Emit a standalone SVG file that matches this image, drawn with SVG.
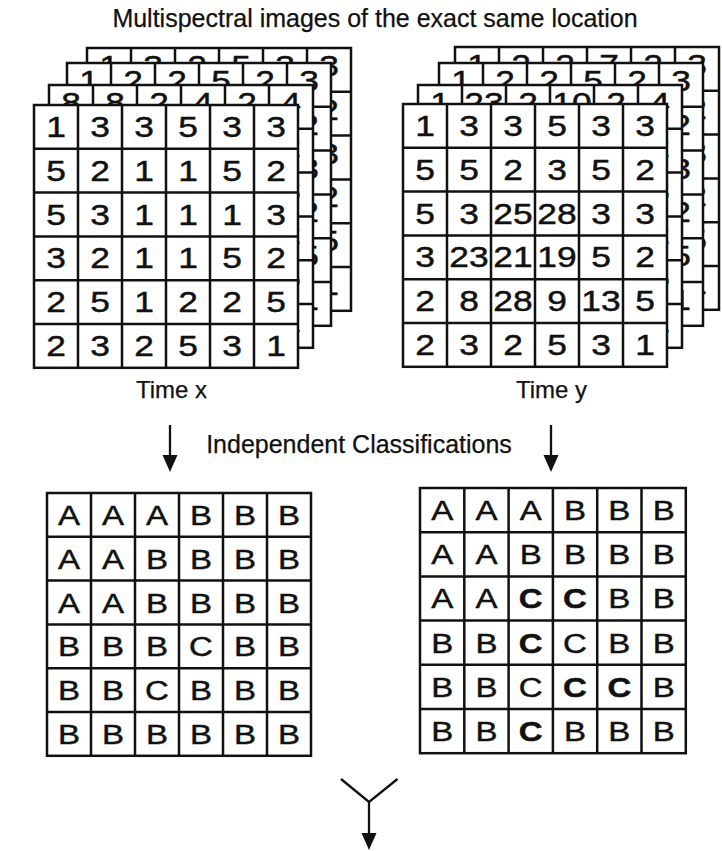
<svg xmlns="http://www.w3.org/2000/svg" xmlns:xlink="http://www.w3.org/1999/xlink" width="722" height="851" viewBox="0 0 722 851">
<style>
.fr{fill:#fff;stroke:#111;stroke-width:2.5}
.fl{fill:none;stroke:#111;stroke-width:2.5}
.n,.L{font-family:"Liberation Sans",Arial,Helvetica,sans-serif;text-anchor:middle;fill:#111;stroke:#111;stroke-width:0.45;transform-box:fill-box;transform-origin:center}
.n{font-size:29px;transform:scaleX(1.22)}
.L{font-size:28px;transform:scaleX(1.18)}
.b{font-weight:bold}
.lab{font-family:"Liberation Sans",Arial,Helvetica,sans-serif;fill:#111;stroke:#111;stroke-width:0.25;text-anchor:middle}
.ar{fill:none;stroke:#111;stroke-width:2.3}
.ah{fill:#111}
</style>
<defs>
<g id="frame"><rect class="fr" width="264" height="262.8"/><path class="fl" d="M44 0V262.8M88 0V262.8M132 0V262.8M176 0V262.8M220 0V262.8M0 43.8H264M0 87.6H264M0 131.4H264M0 175.2H264M0 219H264"/></g>
<g id="frame2"><rect class="fr" width="265.8" height="265.2"/><path class="fl" d="M44.3 0V265.2M88.6 0V265.2M132.9 0V265.2M177.2 0V265.2M221.5 0V265.2M0 44.2H265.8M0 88.4H265.8M0 132.6H265.8M0 176.8H265.8M0 221H265.8"/></g>
</defs>
<rect width="722" height="851" fill="#fff"/>

<text id="title" class="lab" x="375" y="27" font-size="25">Multispectral images of the exact same location</text>

<g id="stack-time-x">
<g transform="translate(87,48)"><use xlink:href="#frame"/>
<text class="n" x="22" y="28">1</text><text class="n" x="66" y="28">3</text><text class="n" x="110" y="28">2</text><text class="n" x="154" y="28">5</text><text class="n" x="198" y="28">3</text><text class="n" x="242" y="28">3</text>
<text class="n" x="242" y="71.8">2</text><text class="n" x="242" y="115.6">3</text><text class="n" x="242" y="159.4">2</text><text class="n" x="242" y="203.2">5</text><text class="n" x="242" y="247">1</text>
</g>
<g transform="translate(67,63)"><use xlink:href="#frame"/>
<text class="n" x="22" y="28">1</text><text class="n" x="66" y="28">2</text><text class="n" x="110" y="28">2</text><text class="n" x="154" y="28">5</text><text class="n" x="198" y="28">2</text><text class="n" x="242" y="28">3</text>
<text class="n" x="242" y="71.8">2</text><text class="n" x="242" y="115.6">3</text><text class="n" x="242" y="159.4">2</text><text class="n" x="242" y="203.2">5</text><text class="n" x="242" y="247">1</text>
</g>
<g transform="translate(49,85)"><use xlink:href="#frame"/>
<text class="n" x="22" y="28">8</text><text class="n" x="66" y="28">8</text><text class="n" x="110" y="28">2</text><text class="n" x="154" y="28">4</text><text class="n" x="198" y="28">2</text><text class="n" x="242" y="28">4</text>
<text class="n" x="242" y="71.8">2</text><text class="n" x="242" y="115.6">3</text><text class="n" x="242" y="159.4">2</text><text class="n" x="242" y="203.2">5</text><text class="n" x="242" y="247">1</text>
</g>
<g transform="translate(34,105)"><use xlink:href="#frame"/>
<text class="n" x="22" y="32">1</text><text class="n" x="66" y="32">3</text><text class="n" x="110" y="32">3</text><text class="n" x="154" y="32">5</text><text class="n" x="198" y="32">3</text><text class="n" x="242" y="32">3</text>
<text class="n" x="22" y="75.8">5</text><text class="n" x="66" y="75.8">2</text><text class="n" x="110" y="75.8">1</text><text class="n" x="154" y="75.8">1</text><text class="n" x="198" y="75.8">5</text><text class="n" x="242" y="75.8">2</text>
<text class="n" x="22" y="119.6">5</text><text class="n" x="66" y="119.6">3</text><text class="n" x="110" y="119.6">1</text><text class="n" x="154" y="119.6">1</text><text class="n" x="198" y="119.6">1</text><text class="n" x="242" y="119.6">3</text>
<text class="n" x="22" y="163.4">3</text><text class="n" x="66" y="163.4">2</text><text class="n" x="110" y="163.4">1</text><text class="n" x="154" y="163.4">1</text><text class="n" x="198" y="163.4">5</text><text class="n" x="242" y="163.4">2</text>
<text class="n" x="22" y="207.2">2</text><text class="n" x="66" y="207.2">5</text><text class="n" x="110" y="207.2">1</text><text class="n" x="154" y="207.2">2</text><text class="n" x="198" y="207.2">2</text><text class="n" x="242" y="207.2">5</text>
<text class="n" x="22" y="251">2</text><text class="n" x="66" y="251">3</text><text class="n" x="110" y="251">2</text><text class="n" x="154" y="251">5</text><text class="n" x="198" y="251">3</text><text class="n" x="242" y="251">1</text>
</g>
<text class="lab" x="171.5" y="398" font-size="24">Time x</text>
</g>

<g id="stack-time-y">
<g transform="translate(455,47)"><use xlink:href="#frame"/>
<text class="n" x="22" y="28">1</text><text class="n" x="66" y="28">2</text><text class="n" x="110" y="28">2</text><text class="n" x="154" y="28">7</text><text class="n" x="198" y="28">2</text><text class="n" x="242" y="28">3</text>
<text class="n" x="242" y="71.8">2</text><text class="n" x="242" y="115.6">3</text><text class="n" x="242" y="159.4">2</text><text class="n" x="242" y="203.2">5</text><text class="n" x="242" y="247">1</text>
</g>
<g transform="translate(439,63)"><use xlink:href="#frame"/>
<text class="n" x="22" y="28">1</text><text class="n" x="66" y="28">2</text><text class="n" x="110" y="28">2</text><text class="n" x="154" y="28">5</text><text class="n" x="198" y="28">2</text><text class="n" x="242" y="28">3</text>
<text class="n" x="242" y="71.8">2</text><text class="n" x="242" y="115.6">3</text><text class="n" x="242" y="159.4">2</text><text class="n" x="242" y="203.2">5</text><text class="n" x="242" y="247">1</text>
</g>
<g transform="translate(418,85)"><use xlink:href="#frame"/>
<text class="n" x="22" y="28">1</text><text class="n" x="66" y="28">23</text><text class="n" x="110" y="28">2</text><text class="n" x="154" y="28">10</text><text class="n" x="198" y="28">2</text><text class="n" x="242" y="28">4</text>
<text class="n" x="242" y="71.8">2</text><text class="n" x="242" y="115.6">3</text><text class="n" x="242" y="159.4">2</text><text class="n" x="242" y="203.2">5</text><text class="n" x="242" y="247">1</text>
</g>
<g transform="translate(403,104)"><use xlink:href="#frame"/>
<text class="n" x="22" y="32">1</text><text class="n" x="66" y="32">3</text><text class="n" x="110" y="32">3</text><text class="n" x="154" y="32">5</text><text class="n" x="198" y="32">3</text><text class="n" x="242" y="32">3</text>
<text class="n" x="22" y="75.8">5</text><text class="n" x="66" y="75.8">5</text><text class="n" x="110" y="75.8">2</text><text class="n" x="154" y="75.8">3</text><text class="n" x="198" y="75.8">5</text><text class="n" x="242" y="75.8">2</text>
<text class="n" x="22" y="119.6">5</text><text class="n" x="66" y="119.6">3</text><text class="n" x="110" y="119.6">25</text><text class="n" x="154" y="119.6">28</text><text class="n" x="198" y="119.6">3</text><text class="n" x="242" y="119.6">3</text>
<text class="n" x="22" y="163.4">3</text><text class="n" x="66" y="163.4">23</text><text class="n" x="110" y="163.4">21</text><text class="n" x="154" y="163.4">19</text><text class="n" x="198" y="163.4">5</text><text class="n" x="242" y="163.4">2</text>
<text class="n" x="22" y="207.2">2</text><text class="n" x="66" y="207.2">8</text><text class="n" x="110" y="207.2">28</text><text class="n" x="154" y="207.2">9</text><text class="n" x="198" y="207.2">13</text><text class="n" x="242" y="207.2">5</text>
<text class="n" x="22" y="251">2</text><text class="n" x="66" y="251">3</text><text class="n" x="110" y="251">2</text><text class="n" x="154" y="251">5</text><text class="n" x="198" y="251">3</text><text class="n" x="242" y="251">1</text>
</g>
<text class="lab" x="551.5" y="398" font-size="24">Time y</text>
</g>

<text id="label-independent" class="lab" x="359" y="453" font-size="25">Independent Classifications</text>

<g id="class-time-x" transform="translate(47,493)"><use xlink:href="#frame"/>
<text class="L" x="22" y="32">A</text><text class="L" x="66" y="32">A</text><text class="L" x="110" y="32">A</text><text class="L" x="154" y="32">B</text><text class="L" x="198" y="32">B</text><text class="L" x="242" y="32">B</text>
<text class="L" x="22" y="75.8">A</text><text class="L" x="66" y="75.8">A</text><text class="L" x="110" y="75.8">B</text><text class="L" x="154" y="75.8">B</text><text class="L" x="198" y="75.8">B</text><text class="L" x="242" y="75.8">B</text>
<text class="L" x="22" y="119.6">A</text><text class="L" x="66" y="119.6">A</text><text class="L" x="110" y="119.6">B</text><text class="L" x="154" y="119.6">B</text><text class="L" x="198" y="119.6">B</text><text class="L" x="242" y="119.6">B</text>
<text class="L" x="22" y="163.4">B</text><text class="L" x="66" y="163.4">B</text><text class="L" x="110" y="163.4">B</text><text class="L" x="154" y="163.4">C</text><text class="L" x="198" y="163.4">B</text><text class="L" x="242" y="163.4">B</text>
<text class="L" x="22" y="207.2">B</text><text class="L" x="66" y="207.2">B</text><text class="L" x="110" y="207.2">C</text><text class="L" x="154" y="207.2">B</text><text class="L" x="198" y="207.2">B</text><text class="L" x="242" y="207.2">B</text>
<text class="L" x="22" y="251">B</text><text class="L" x="66" y="251">B</text><text class="L" x="110" y="251">B</text><text class="L" x="154" y="251">B</text><text class="L" x="198" y="251">B</text><text class="L" x="242" y="251">B</text>
</g>

<g id="class-time-y" transform="translate(420,488)"><use xlink:href="#frame2"/>
<text class="L" x="22.2" y="32.1">A</text><text class="L" x="66.5" y="32.1">A</text><text class="L" x="110.8" y="32.1">A</text><text class="L" x="155" y="32.1">B</text><text class="L" x="199.4" y="32.1">B</text><text class="L" x="243.7" y="32.1">B</text>
<text class="L" x="22.2" y="76.3">A</text><text class="L" x="66.5" y="76.3">A</text><text class="L" x="110.8" y="76.3">B</text><text class="L" x="155" y="76.3">B</text><text class="L" x="199.4" y="76.3">B</text><text class="L" x="243.7" y="76.3">B</text>
<text class="L" x="22.2" y="120.5">A</text><text class="L" x="66.5" y="120.5">A</text><text class="L b" x="110.8" y="120.5">C</text><text class="L b" x="155" y="120.5">C</text><text class="L" x="199.4" y="120.5">B</text><text class="L" x="243.7" y="120.5">B</text>
<text class="L" x="22.2" y="164.7">B</text><text class="L" x="66.5" y="164.7">B</text><text class="L b" x="110.8" y="164.7">C</text><text class="L" x="155" y="164.7">C</text><text class="L" x="199.4" y="164.7">B</text><text class="L" x="243.7" y="164.7">B</text>
<text class="L" x="22.2" y="208.9">B</text><text class="L" x="66.5" y="208.9">B</text><text class="L" x="110.8" y="208.9">C</text><text class="L b" x="155" y="208.9">C</text><text class="L b" x="199.4" y="208.9">C</text><text class="L" x="243.7" y="208.9">B</text>
<text class="L" x="22.2" y="253.1">B</text><text class="L" x="66.5" y="253.1">B</text><text class="L b" x="110.8" y="253.1">C</text><text class="L" x="155" y="253.1">B</text><text class="L" x="199.4" y="253.1">B</text><text class="L" x="243.7" y="253.1">B</text>
</g>

<g id="connectors">
<path class="ar" d="M170 425V458"/>
<polygon class="ah" points="162.5,455 177.5,455 170,472"/>
<path class="ar" d="M551 425V458"/>
<polygon class="ah" points="543.5,455 558.5,455 551,472"/>
<path class="ar" d="M341 779L369 802L397.5 779M369 802V836"/>
<polygon class="ah" points="361.5,833 376.5,833 369,850"/>
</g>
</svg>
